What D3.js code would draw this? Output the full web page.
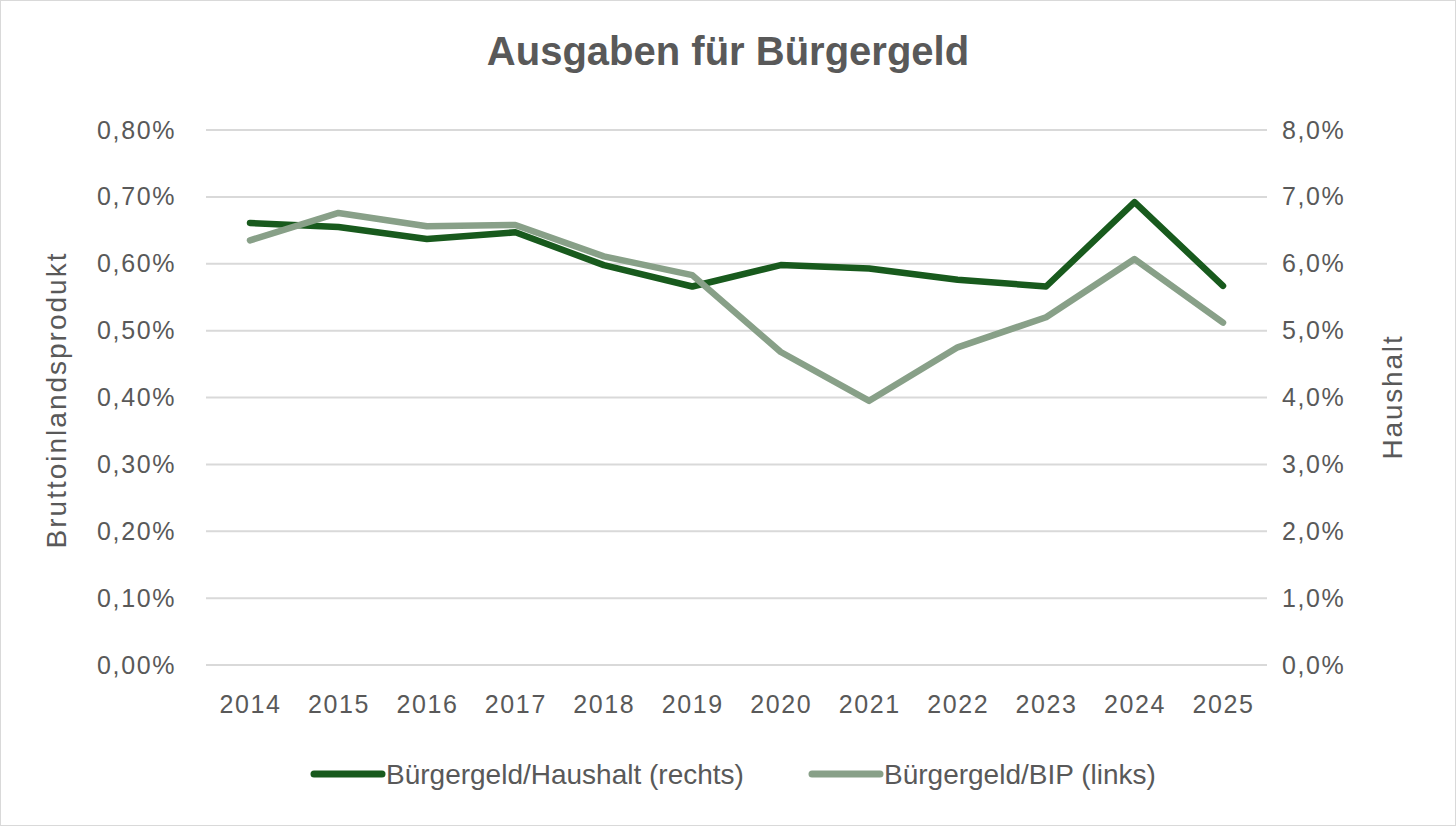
<!DOCTYPE html>
<html><head><meta charset="utf-8">
<script src="https://cdn.jsdelivr.net/npm/d3@7"></script>
<style>
html,body{margin:0;padding:0;background:#fff;}
svg{display:block;}
</style></head>
<body>
<svg id="chart" width="1456" height="826"></svg>
<script>
const years = ["2014","2015","2016","2017","2018","2019","2020","2021","2022","2023","2024","2025"];
const haushalt = [6.61, 6.55, 6.37, 6.47, 5.98, 5.66, 5.98, 5.93, 5.76, 5.66, 6.92, 5.67]; // % of budget (right axis)
const bip = [0.635, 0.676, 0.656, 0.658, 0.611, 0.583, 0.468, 0.395, 0.475, 0.520, 0.607, 0.512]; // % of GDP (left axis)
const leftTicks = [0, 0.1, 0.2, 0.3, 0.4, 0.5, 0.6, 0.7, 0.8];
const rightTicks = [0, 1, 2, 3, 4, 5, 6, 7, 8];
const seriesNames = ["Bürgergeld/Haushalt (rechts)", "Bürgergeld/BIP (links)"];
const colors = ["#185a1d", "#88a088"];

const svg = d3.select("#chart");
const W = 1456, H = 826;
const textColor = "#595959";
const sans = "'Liberation Sans', Arial, sans-serif";
const narrow = "'Liberation Sans Narrow', 'Liberation Sans', sans-serif";

svg.append("rect").attr("x",0.5).attr("y",0.5).attr("width",W-1).attr("height",H-1)
  .attr("fill","#fff").attr("stroke","#d9d9d9").attr("stroke-width",1);

const m = {left:206, right:1267, top:130, bottom:665};
const x = d3.scalePoint().domain(years).range([250, 1223]);
const yL = d3.scaleLinear().domain([0, 0.8]).range([m.bottom, m.top]);
const yR = d3.scaleLinear().domain([0, 8]).range([m.bottom, m.top]);

// gridlines
svg.append("g").selectAll("line").data(leftTicks).join("line")
  .attr("x1", m.left).attr("x2", m.right)
  .attr("y1", d => yL(d)).attr("y2", d => yL(d))
  .attr("stroke", "#d9d9d9").attr("stroke-width", 2);

// axes
const fmtL = d => d.toFixed(2).replace(".", ",") + "%";
const fmtR = d => d.toFixed(1).replace(".", ",") + "%";
const gL = svg.append("g").attr("transform", `translate(${m.left},0)`)
  .call(d3.axisLeft(yL).tickValues(leftTicks).tickFormat(fmtL).tickSize(0).tickPadding(30));
const gR = svg.append("g").attr("transform", `translate(${m.right},0)`)
  .call(d3.axisRight(yR).tickValues(rightTicks).tickFormat(fmtR).tickSize(0).tickPadding(15));
const gX = svg.append("g").attr("transform", `translate(0,${m.bottom})`)
  .call(d3.axisBottom(x).tickSize(0).tickPadding(30));
[gL, gR, gX].forEach(g => {
  g.select(".domain").remove();
  g.selectAll("text").attr("fill", textColor).style("font-family", sans)
    .style("font-size", "25px").style("letter-spacing", "1.6px");
});

// axis titles
svg.append("text").attr("transform", `translate(66,400) rotate(-90)`)
  .attr("text-anchor","middle").attr("fill",textColor)
  .style("font-family", sans).style("font-size","28px").style("letter-spacing","2px")
  .text("Bruttoinlandsprodukt");
svg.append("text").attr("transform", `translate(1402,397) rotate(-90)`)
  .attr("text-anchor","middle").attr("fill",textColor)
  .style("font-family", sans).style("font-size","28px").style("letter-spacing","1.8px")
  .text("Haushalt");

// title
svg.append("text").attr("x", 728).attr("y", 65).attr("text-anchor","middle")
  .attr("fill", textColor).style("font-family", narrow).style("font-weight","bold")
  .style("font-size","40px").text("Ausgaben für Bürgergeld");

// lines
const lineR = d3.line().x((d,i) => x(years[i])).y(d => yR(d));
const lineL = d3.line().x((d,i) => x(years[i])).y(d => yL(d));
svg.append("path").datum(haushalt).attr("d", lineR).attr("fill","none")
  .attr("stroke", colors[0]).attr("stroke-width", 6.5).attr("stroke-linejoin","round").attr("stroke-linecap","round");
svg.append("path").datum(bip).attr("d", lineL).attr("fill","none")
  .attr("stroke", colors[1]).attr("stroke-width", 6.5).attr("stroke-linejoin","round").attr("stroke-linecap","round");

// legend
const legendX = [312, 810];
const lg = svg.append("g").selectAll("g").data(seriesNames).join("g")
  .attr("transform", (d,i) => `translate(${legendX[i]},774)`);
lg.append("line").attr("x1",2).attr("x2",70).attr("y1",0).attr("y2",0)
  .attr("stroke",(d,i)=>colors[i]).attr("stroke-width",7).attr("stroke-linecap","round");
lg.append("text").attr("x",74).attr("y",10).attr("fill",textColor)
  .style("font-family", narrow).style("font-size","28px").text(d=>d);
</script>
</body></html>
